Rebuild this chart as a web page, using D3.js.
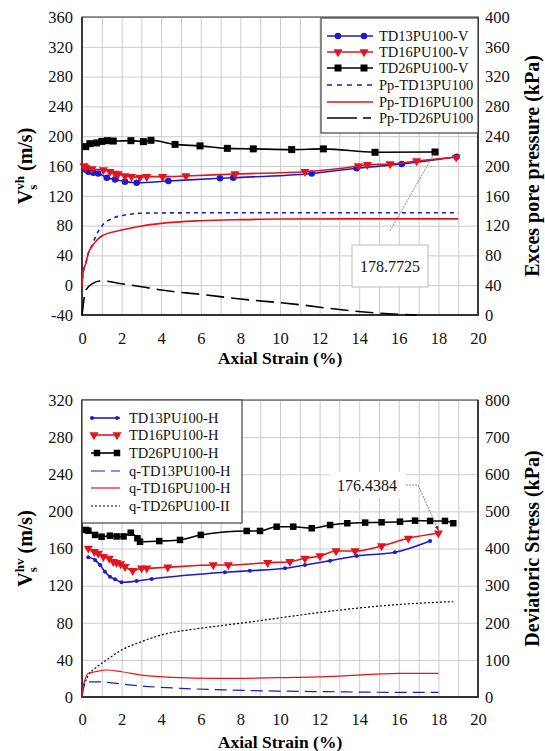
<!DOCTYPE html>
<html>
<head>
<meta charset="utf-8">
<script src="https://cdn.jsdelivr.net/npm/d3@7"></script>
<style>
  html, body { margin: 0; padding: 0; background: #fff; }
  svg { display: block; }
  svg text { font-family: "Liberation Serif", "DejaVu Serif", "Noto Serif", "Times New Roman", Times, serif; }
</style>
</head>
<body>
<svg id="chart" width="545" height="751"></svg>
<script>
// ---------- shared axis ticks ----------
const strainTicks = [0, 2, 4, 6, 8, 10, 12, 14, 16, 18, 20];
const vsTicksTop = [-40, 0, 40, 80, 120, 160, 200, 240, 280, 320, 360];
const poreTicks = [0, 40, 80, 120, 160, 200, 240, 280, 320, 360, 400];
const vsTicksBottom = [0, 40, 80, 120, 160, 200, 240, 280, 320];
const stressTicks = [0, 100, 200, 300, 400, 500, 600, 700, 800];

// ---------- upper panel: Vs(vh) and excess pore pressure ----------
const td13V_strain = [0.2, 0.32, 0.57, 0.82, 1.25, 1.67, 2.17, 2.76, 4.36, 6.97, 7.64, 11.6, 13.87, 16.15, 18.92];
const td13V_vs     = [155, 152.3, 151, 150, 144.3, 142, 139, 137.6, 139.9, 143.5, 144.3, 150, 156.9, 162.7, 172.5];

const td16V_strain = [0.1, 0.2, 0.5, 1.08, 1.41, 1.67, 1.83, 2.17, 2.5, 2.93, 3.27, 4.07, 5.25, 7.73, 11.26, 13.96, 14.41, 15.56, 16.9, 18.9];
const td16V_vs     = [160, 158.2, 156, 154.6, 152.3, 150, 149.3, 146.6, 145.7, 144.8, 145.7, 145.7, 146.6, 149.3, 152.3, 160, 161.8, 162.7, 166.7, 171.7];

const td26V_strain = [0.19, 0.4, 0.74, 1.0, 1.28, 1.58, 2.47, 3.1, 3.48, 4.7, 5.96, 7.34, 8.65, 10.59, 12.19, 14.8, 17.83];
const td26V_vs     = [186, 190, 191, 193, 194, 193.5, 194, 192.7, 194.5, 189, 187, 183.7, 183, 182, 183, 178.4, 178.7725];

const ppTD13_strain = [0, 0.05, 0.2, 0.32, 0.5, 0.7, 1.0, 1.55, 2.17, 2.93, 4, 8, 12, 16, 19];
const ppTD13_kpa    = [38, 56, 70, 83, 93, 106, 119.5, 129.8, 134.2, 136.5, 137, 137.3, 137.3, 137.3, 137.3];

const ppTD16_strain = [0, 0.05, 0.2, 0.32, 0.5, 0.74, 1, 2, 3, 4, 6, 8, 10, 14, 19];
const ppTD16_kpa    = [38, 56, 70, 83, 92, 100, 106, 114, 119.5, 123, 126.5, 128, 128.8, 129, 129];

const ppTD26_strain = [0, 0.2, 0.55, 0.9, 1.2, 2, 3, 4, 6, 8, 10.84, 13.2, 15.7, 16.9];
const ppTD26_kpa    = [0, 33.6, 42.5, 45.7, 45.5, 42, 38, 33.5, 27.7, 21.5, 14.3, 6.7, 1.3, 0];

// ---------- lower panel: Vs(hv) and deviatoric stress ----------
const td13H_strain = [0.32, 0.66, 0.91, 1.16, 1.41, 1.67, 2.0, 2.76, 3.52, 7.22, 8.48, 10.25, 11.26, 12.53, 13.87, 15.8, 17.58];
const td13H_vs     = [150.5, 147.6, 142.2, 135, 129.6, 127, 123.6, 125, 127.2, 134.4, 136.1, 138.7, 142.2, 146.9, 151.9, 155.9, 168.1];

const td16H_strain = [0.32, 0.62, 0.82, 1.08, 1.38, 1.58, 1.75, 1.95, 2.17, 2.56, 3.01, 3.27, 4.33, 6.63, 7.39, 9.38, 10.5, 11.26, 12.02, 12.83, 13.79, 15.13, 16.48, 18.0];
const td16H_vs     = [160.2, 156.6, 154.8, 151.2, 149.4, 145.8, 144.7, 143.3, 140.4, 136.1, 138.7, 138.7, 139.8, 142.2, 142.2, 144.7, 145.8, 149.4, 151.9, 157.3, 157.3, 162.7, 171, 176.4384];

const td26H_strain = [0.2, 0.32, 0.66, 0.99, 1.41, 1.75, 2.1, 2.46, 2.8, 2.93, 3.9, 4.95, 6.0, 8.32, 8.99, 9.83, 10.67, 11.6, 12.53, 13.4, 14.3, 15.13, 16.06, 16.82, 17.58, 18.33, 18.75];
const td26H_vs     = [180, 179.2, 174.6, 172.7, 173.8, 173, 173, 177, 171, 167.3, 168, 169.2, 174.6, 178.9, 178.9, 183.5, 183.5, 181.8, 185.3, 187.2, 187.9, 188.2, 188.9, 190, 189.7, 189.7, 187.2];

const qTD13_strain = [0, 0.1, 0.32, 0.82, 2.0, 3.0, 5.0, 7.3, 9.83, 12.36, 15.7, 18];
const qTD13_kpa    = [0, 28, 41, 41, 35, 29.6, 23.3, 19, 16, 14.4, 12.6, 12.6];

const qTD16_strain = [0, 0.05, 0.15, 0.32, 0.66, 1.25, 2.0, 3.0, 4.6, 6.8, 9.83, 12.36, 16.06, 18];
const qTD16_kpa    = [0, 25, 46, 64, 68, 72.7, 68, 59, 53, 50, 52, 54.7, 63.8, 63.8];

const qTD26_strain = [0, 0.05, 0.15, 0.32, 0.66, 1.25, 2.0, 3.0, 4.0, 5.96, 7.98, 9.83, 12.36, 15.7, 18.75];
const qTD26_kpa    = [0, 20, 37, 59, 77, 100, 126.6, 149, 167, 185, 198.5, 212, 230, 248, 257];

// ---------- styling ----------
const BLUE = "#1b1bcc", RED = "#e5141c", BLACK = "#000";
const svg = d3.select("#chart");
const zip = (xs, ys) => xs.map((v, i) => [v, ys[i]]);

const PLOT_LEFT = 82, PLOT_RIGHT = 478;

const markerPath = {
  circle: r => d3.symbol(d3.symbolCircle, Math.PI * r * r)(),
  square: s => d3.symbol(d3.symbolSquare, s * s)(),
  triDown: s => d3.symbol(d3.symbolTriangle, s * s * 0.45)()
};

function drawMarkers(g, pts, kind, size, color) {
  const p = markerPath[kind](size);
  g.selectAll(null).data(pts).join("path")
    .attr("d", p)
    .attr("transform", d => `translate(${d[0]},${d[1]})` + (kind === "triDown" ? " rotate(180)" : ""))
    .attr("fill", color);
}

function panel(o) {
  const x = d3.scaleLinear().domain([0, 20]).range([PLOT_LEFT, PLOT_RIGHT]);
  const yL = d3.scaleLinear().domain(o.leftDomain).range([o.bottom, o.top]);
  const yR = d3.scaleLinear().domain(o.rightDomain).range([o.bottom, o.top]);
  const w = PLOT_RIGHT - PLOT_LEFT, h = o.bottom - o.top;
  const g = svg.append("g");

  // grid
  g.append("g").attr("transform", `translate(0,${o.bottom})`)
    .call(d3.axisBottom(x).tickValues(d3.range(0, 21, 1)).tickSize(-h).tickFormat(""))
    .call(a => a.select(".domain").remove())
    .call(a => a.selectAll("line").attr("stroke", "#cbcbcb").attr("stroke-width", 1));
  g.append("g").attr("transform", `translate(${PLOT_LEFT},0)`)
    .call(d3.axisLeft(yL).tickValues(o.leftTicks).tickSize(-w).tickFormat(""))
    .call(a => a.select(".domain").remove())
    .call(a => a.selectAll("line").attr("stroke", "#cbcbcb").attr("stroke-width", 1));

  // frame
  g.append("rect").attr("x", PLOT_LEFT).attr("y", o.top).attr("width", w).attr("height", h)
    .attr("fill", "none").attr("stroke", "#555").attr("stroke-width", 1.2);
  g.append("path").attr("d", `M${PLOT_LEFT},${o.top}V${o.bottom}H${PLOT_RIGHT}V${o.top}`)
    .attr("fill", "none").attr("stroke", "#333").attr("stroke-width", 1.8);

  // tick labels
  const styleTicks = a => {
    a.attr("font-family", null);
    a.select(".domain").remove();
    a.selectAll("line").remove();
    a.selectAll("text").attr("font-size", 16.5).attr("fill", "#111");
  };
  g.append("g").attr("transform", `translate(0,${o.bottom})`)
    .call(d3.axisBottom(x).tickValues(strainTicks).tickSize(0).tickPadding(o.xPad).tickFormat(d => String(d)))
    .call(styleTicks);
  g.append("g").attr("transform", `translate(${PLOT_LEFT},0)`)
    .call(d3.axisLeft(yL).tickValues(o.leftTicks).tickSize(0).tickPadding(9).tickFormat(d => String(d)))
    .call(styleTicks);
  g.append("g").attr("transform", `translate(${PLOT_RIGHT},0)`)
    .call(d3.axisRight(yR).tickValues(o.rightTicks).tickSize(0).tickPadding(7).tickFormat(d => String(d)))
    .call(styleTicks);

  // axis titles
  g.append("text").attr("x", (PLOT_LEFT + PLOT_RIGHT) / 2).attr("y", o.bottom + o.titleGap)
    .attr("text-anchor", "middle").attr("font-weight", "bold").attr("font-size", 17.5)
    .text("Axial Strain (%)");

  const lt = g.append("text").attr("transform", `translate(32,${(o.top + o.bottom) / 2}) rotate(-90)`)
    .attr("text-anchor", "middle").attr("font-weight", "bold").attr("font-size", 20);
  lt.append("tspan").text("V");
  lt.append("tspan").attr("font-size", 13).attr("dy", 5).text("s");
  lt.append("tspan").attr("font-size", 13).attr("dx", -5).attr("dy", -13).text(o.sup);
  lt.append("tspan").attr("dy", 8).text(" (m/s)");

  g.append("text").attr("transform", `translate(539,${(o.top + o.bottom) / 2}) rotate(-90)`)
    .attr("text-anchor", "middle").attr("font-weight", "bold").attr("font-size", 20)
    .text(o.rightTitle);

  return { g, x, yL, yR };
}

function addLine(ctx, xs, ys, scaleY, color, width, dash) {
  const line = d3.line().x(d => ctx.x(d[0])).y(d => scaleY(d[1])).curve(d3.curveMonotoneX);
  ctx.g.append("path").datum(zip(xs, ys)).attr("d", line)
    .attr("fill", "none").attr("stroke", color).attr("stroke-width", width)
    .attr("stroke-dasharray", dash || null);
}

function addSeries(ctx, xs, ys, color, kind, size, width) {
  addLine(ctx, xs, ys, ctx.yL, color, width);
  drawMarkers(ctx.g.append("g"), zip(xs, ys).map(d => [ctx.x(d[0]), ctx.yL(d[1])]), kind, size, color);
}

function legend(g, x0, y0, w, h, rows, sx0, sx1, tx, rowY) {
  g.append("rect").attr("x", x0).attr("y", y0).attr("width", w).attr("height", h)
    .attr("fill", "#fff").attr("stroke", "#444").attr("stroke-width", 1.2);
  rows.forEach((r, i) => {
    const y = rowY[i];
    g.append("line").attr("x1", sx0).attr("x2", sx1).attr("y1", y).attr("y2", y)
      .attr("stroke", r.color).attr("stroke-width", r.width).attr("stroke-dasharray", r.dash || null);
    if (r.kind) drawMarkers(g.append("g"), r.mk.map(mx => [mx, y]), r.kind, r.size, r.color);
    g.append("text").attr("x", tx).attr("y", y).attr("dy", "0.35em")
      .attr("font-size", 14.5).attr("fill", "#111").text(r.label);
  });
}

// ================= upper panel =================
const upper = panel({
  top: 17, bottom: 315,
  leftDomain: [-40, 360], rightDomain: [0, 400],
  leftTicks: vsTicksTop, rightTicks: poreTicks,
  xPad: 17, titleGap: 49, sup: "vh",
  rightTitle: "Exces pore pressure (kPa)"
});

addLine(upper, ppTD26_strain, ppTD26_kpa, upper.yR, BLACK, 1.6, "18,7");
addLine(upper, ppTD13_strain, ppTD13_kpa, upper.yR, BLUE, 1.6, "4,4");
addLine(upper, ppTD16_strain, ppTD16_kpa, upper.yR, RED, 1.6);
addSeries(upper, td26V_strain, td26V_vs, BLACK, "square", 7, 1.6);
addSeries(upper, td13V_strain, td13V_vs, BLUE, "circle", 3.3, 1.6);
addSeries(upper, td16V_strain, td16V_vs, RED, "triDown", 9, 1.6);

// callout for the last TD26 point
{
  const i = td26V_vs.length - 1;
  const px = upper.x(td26V_strain[i]), py = upper.yL(td26V_vs[i]);
  upper.g.append("line").attr("x1", 390).attr("y1", 231).attr("x2", px).attr("y2", py)
    .attr("stroke", "#777").attr("stroke-width", 0.8).attr("stroke-dasharray", "2,1");
  upper.g.append("rect").attr("x", 352).attr("y", 245).attr("width", 76).attr("height", 42)
    .attr("fill", "#fff").attr("stroke", "#bbb").attr("stroke-width", 1);
  upper.g.append("text").attr("x", 390).attr("y", 266).attr("dy", "0.35em")
    .attr("text-anchor", "middle").attr("font-size", 16).attr("fill", "#111")
    .text(d3.format(".4f")(td26V_vs[i]));
}

legend(upper.g, 321, 18, 157, 115, [
  { label: "TD13PU100-V", color: BLUE, width: 1.6, kind: "circle", size: 3.3, mk: [338, 364] },
  { label: "TD16PU100-V", color: RED, width: 1.6, kind: "triDown", size: 9, mk: [338, 364] },
  { label: "TD26PU100-V", color: BLACK, width: 1.6, kind: "square", size: 7, mk: [338, 364] },
  { label: "Pp-TD13PU100", color: BLUE, width: 1.6, dash: "5,5" },
  { label: "Pp-TD16PU100", color: RED, width: 1.6 },
  { label: "Pp-TD26PU100", color: BLACK, width: 1.6, dash: "30,6,8,20" }
], 327, 373, 379, [36, 52, 68, 85, 102, 118]);

// ================= lower panel =================
const lower = panel({
  top: 400, bottom: 697,
  leftDomain: [0, 320], rightDomain: [0, 800],
  leftTicks: vsTicksBottom, rightTicks: stressTicks,
  xPad: 16, titleGap: 51, sup: "hv",
  rightTitle: "Deviatoric Stress (kPa)"
});

addLine(lower, qTD26_strain, qTD26_kpa, lower.yR, BLACK, 1.2, "2,2");
addLine(lower, qTD13_strain, qTD13_kpa, lower.yR, BLUE, 1.2, "12,6");
addLine(lower, qTD16_strain, qTD16_kpa, lower.yR, RED, 1.2);
addSeries(lower, td26H_strain, td26H_vs, BLACK, "square", 6.5, 1.6);
addSeries(lower, td13H_strain, td13H_vs, BLUE, "circle", 2, 1.6);
addSeries(lower, td16H_strain, td16H_vs, RED, "triDown", 9, 1.6);

// callout for the last TD16 point
{
  const i = td16H_vs.length - 1;
  const px = lower.x(td16H_strain[i]), py = lower.yL(td16H_vs[i]);
  svg.append("defs").append("marker").attr("id", "arrow")
    .attr("viewBox", "0 0 10 10").attr("refX", 9).attr("refY", 5)
    .attr("markerWidth", 6).attr("markerHeight", 6).attr("orient", "auto")
    .append("path").attr("d", "M0,1L10,5L0,9Z").attr("fill", "#444");
  lower.g.append("rect").attr("x", 329).attr("y", 472).attr("width", 77).attr("height", 26).attr("fill", "#fff");
  lower.g.append("path").attr("d", `M406,485H418L${px},${py - 3}`)
    .attr("fill", "none").attr("stroke", "#666").attr("stroke-width", 0.8)
    .attr("stroke-dasharray", "2,1").attr("marker-end", "url(#arrow)");
  lower.g.append("text").attr("x", 367).attr("y", 485).attr("dy", "0.35em")
    .attr("text-anchor", "middle").attr("font-size", 16).attr("fill", "#111")
    .text(d3.format(".4f")(td16H_vs[i]));
}

legend(lower.g, 82, 400, 160, 123, [
  { label: "TD13PU100-H", color: BLUE, width: 1.6, kind: "circle", size: 2, mk: [92, 117] },
  { label: "TD16PU100-H", color: RED, width: 1.6, kind: "triDown", size: 9, mk: [94, 117] },
  { label: "TD26PU100-H", color: BLACK, width: 1.6, kind: "square", size: 6.5, mk: [97, 117] },
  { label: "q-TD13PU100-H", color: BLUE, width: 1.2, dash: "14,6" },
  { label: "q-TD16PU100-H", color: RED, width: 1.2 },
  { label: "q-TD26PU100-II", color: BLACK, width: 1.2, dash: "2,2" }
], 91, 120, 129, [418, 435, 453, 471, 488, 506]);
</script>
</body>
</html>
